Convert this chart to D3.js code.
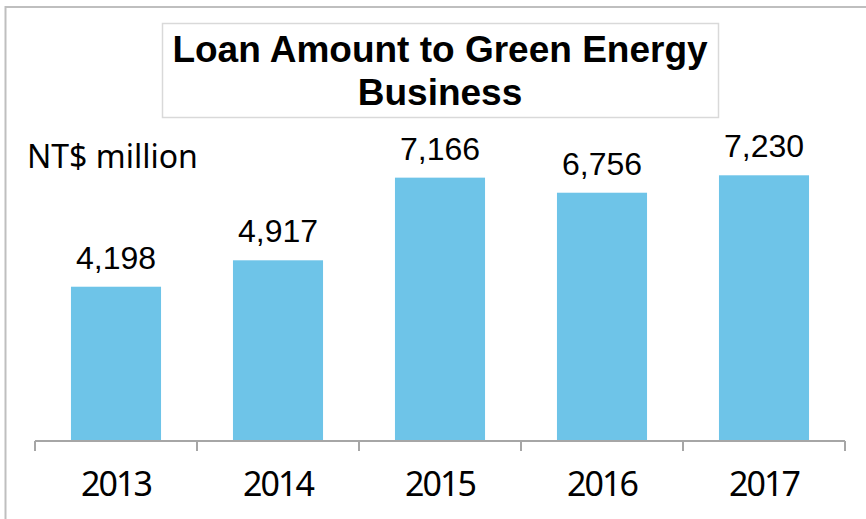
<!DOCTYPE html>
<html>
<head>
<meta charset="utf-8">
<script src="https://cdn.jsdelivr.net/npm/d3@7"></script>
<style>
  body { margin: 0; background: #fff; }
</style>
</head>
<body>
<svg id="chart" width="866" height="519"></svg>
<script>
const width = 866;
const height = 519;

const years = ["2013", "2014", "2015", "2016", "2017"];
const loanAmounts = [4198, 4917, 7166, 6756, 7230];
const titleLines = ["Loan Amount to Green Energy", "Business"];
const unitLabel = "NT$ million";

const svg = d3.select("#chart");

// outer frame (cut off at right and bottom like the original)
svg.append("rect")
  .attr("x", 5.5).attr("y", 7)
  .attr("width", 900).attr("height", 600)
  .attr("fill", "none")
  .attr("stroke", "#bfbfbf")
  .attr("stroke-width", 2);

const x = d3.scaleBand().domain(years).range([35, 845]).padding(0);
const y = d3.scaleLinear().domain([0, 8000]).range([441, 147]);
const barW = x.bandwidth() * 0.556;

svg.append("g")
  .selectAll("rect")
  .data(loanAmounts)
  .enter()
  .append("rect")
  .attr("x", (d, i) => x(years[i]) + (x.bandwidth() - barW) / 2)
  .attr("y", (d) => y(d))
  .attr("width", barW)
  .attr("height", (d) => y(0) - y(d))
  .attr("fill", "#6ec4e8");

// value labels
svg.append("g")
  .selectAll("text")
  .data(loanAmounts)
  .enter()
  .append("text")
  .attr("x", (d, i) => x(years[i]) + x.bandwidth() / 2)
  .attr("y", (d) => y(d) - 18)
  .attr("text-anchor", "middle")
  .attr("font-family", "Liberation Sans, Arial, sans-serif")
  .attr("font-size", 32)
  .attr("fill", "#000")
  .text((d) => d3.format(",")(d));

// category axis, ticks on the band edges
const axis = svg.append("g").attr("transform", "translate(0,441)");
axis.append("line")
  .attr("x1", 35).attr("x2", 845)
  .attr("stroke", "#a6a6a6").attr("stroke-width", 2);
axis.selectAll(".tick")
  .data(years.map((d) => x(d)).concat([x.range()[1]]))
  .enter()
  .append("line")
  .attr("x1", (d) => d).attr("x2", (d) => d)
  .attr("y1", 0).attr("y2", 10)
  .attr("stroke", "#a6a6a6").attr("stroke-width", 2);
axis.selectAll("text")
  .data(years)
  .enter()
  .append("text")
  .attr("x", (d) => x(d) + x.bandwidth() / 2)
  .attr("y", 55)
  .attr("text-anchor", "middle")
  .attr("font-family", "Noto Sans, sans-serif")
  .attr("font-size", 34)
  .attr("letter-spacing", -2)
  .attr("fill", "#000")
  .text((d) => d);

// unit label
svg.append("text")
  .attr("x", 27).attr("y", 168)
  .attr("font-family", "Noto Sans, sans-serif")
  .attr("font-size", 32)
  .attr("fill", "#000")
  .text(unitLabel);

// title box
svg.append("rect")
  .attr("x", 162.5).attr("y", 23.5)
  .attr("width", 556).attr("height", 94)
  .attr("fill", "#fff")
  .attr("stroke", "#d9d9d9")
  .attr("stroke-width", 1.5);

svg.append("g")
  .selectAll("text")
  .data(titleLines)
  .enter()
  .append("text")
  .attr("x", 440)
  .attr("y", (d, i) => 62 + i * 43)
  .attr("text-anchor", "middle")
  .attr("font-family", "Liberation Sans, Arial, sans-serif")
  .attr("font-weight", "bold")
  .attr("font-size", 37)
  .attr("fill", "#000")
  .text((d) => d);
</script>
</body>
</html>
